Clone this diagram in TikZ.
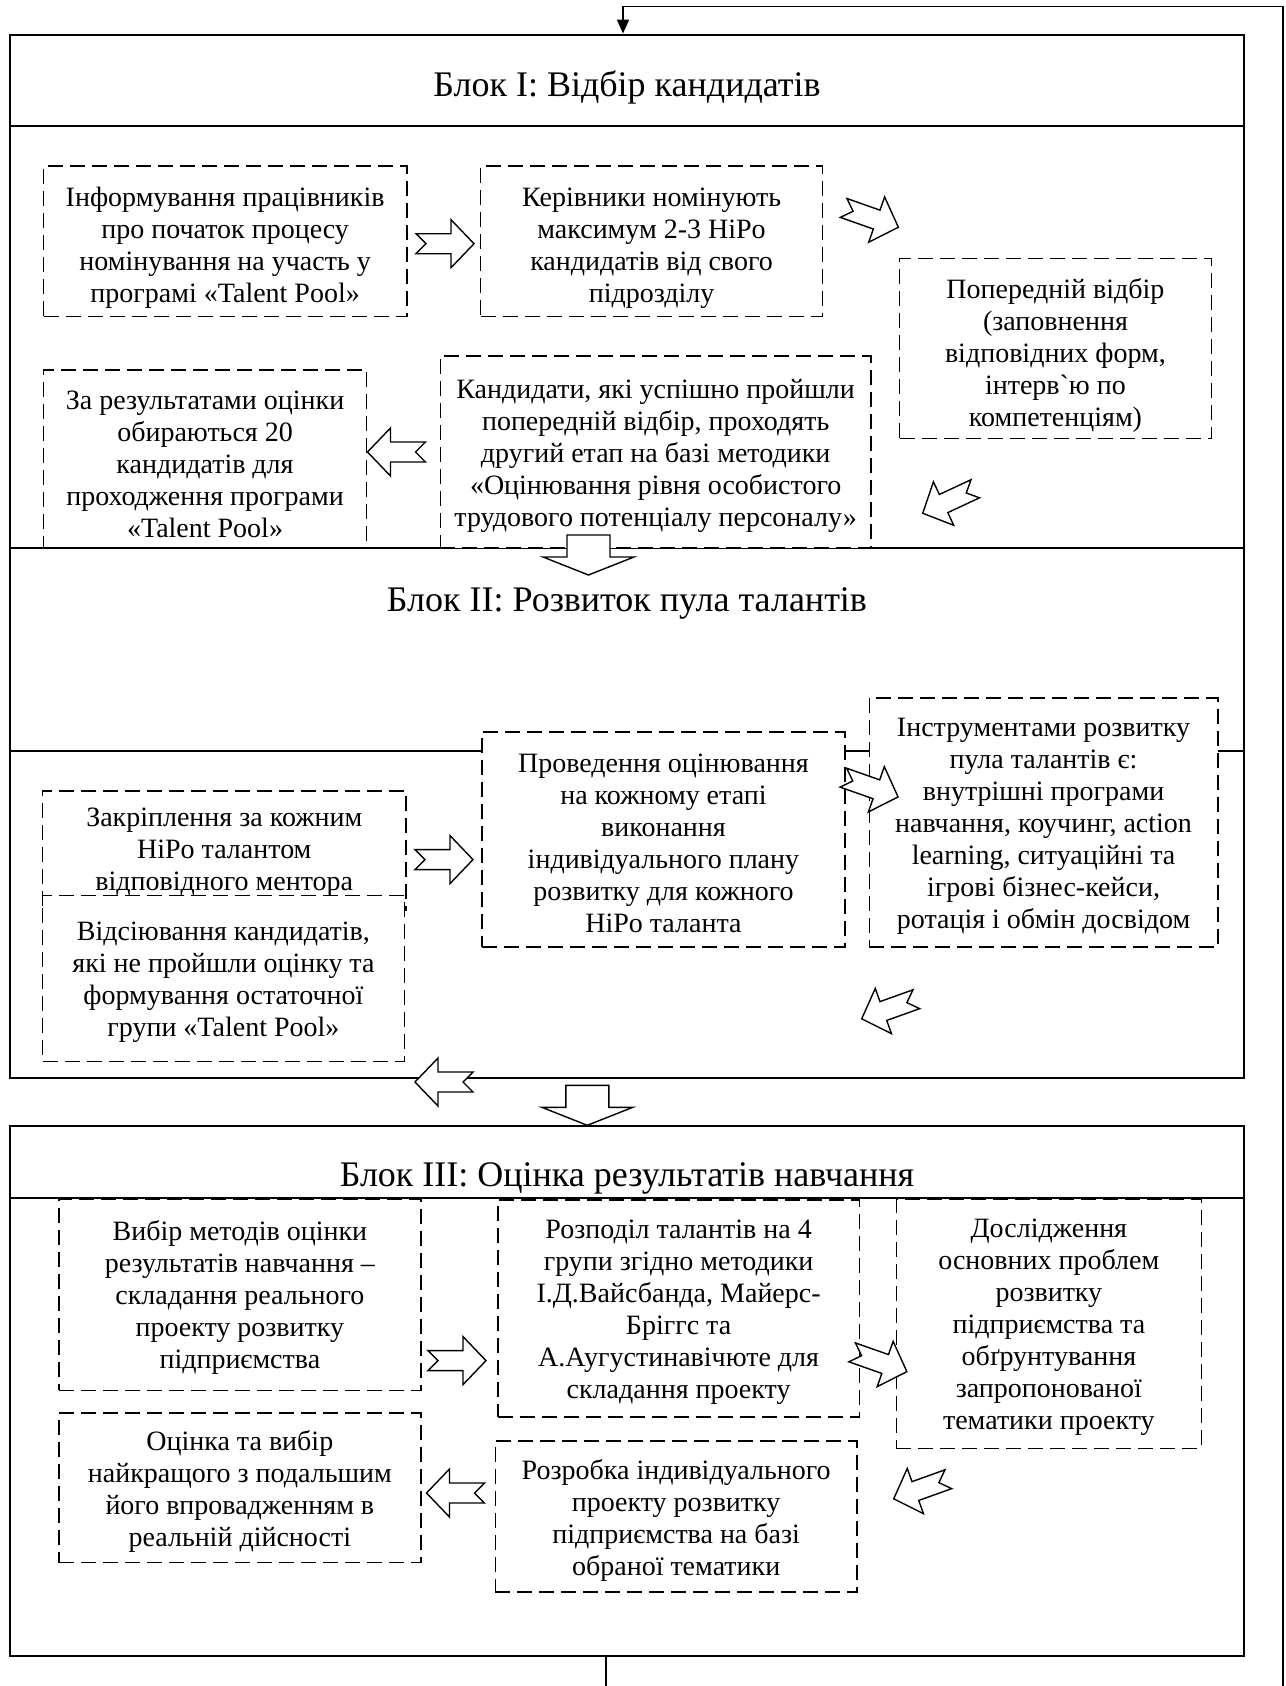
\documentclass[tikz,border=0pt]{standalone}
\usepackage{fontspec}
\setmainfont{Liberation Serif}
\usetikzlibrary{arrows.meta}
\newcommand\dbx[7][0]{%
  \node[dbox, corners={#3}{#4}{#5}{#6}] (#2) {};
  \node[btxt] (#2t) at ([yshift={-(2+#1)*1pt}]#2.center) {#7};}
\begin{document}
\begin{tikzpicture}[x=0.5pt,y=-0.5pt,
  corners/.style n args={4}{minimum width={(#3-#1)*0.5pt}, minimum height={(#4-#2)*0.5pt}, at={({(#1+#3)/2},{(#2+#4)/2})}},
  frame/.style={draw, line width=1pt, inner sep=0pt},
  dbox/.style={draw, fill=white, line width=0.8pt, dash pattern=on 7.5pt off 3.5pt, inner sep=0pt},
  btxt/.style={align=center, inner sep=0pt, font=\fontsize{14}{16}\selectfont},
  ttl/.style={anchor=base, font=\fontsize{18}{21}\selectfont, inner sep=0pt},
  sarr/.style={draw, fill=white, line width=0.7pt, line join=miter},
  fb/.style={line width=0.75pt},
  notch/.pic={\path[sarr] (29,0) -- (6,24) -- (6,10) -- (-29,10) -- (-19,0) -- (-29,-10) -- (6,-10) -- (6,-24) -- cycle;},
  downarr/.pic={\path[sarr] (0,0) -- (-45.5,-18) -- (-21.5,-18) -- (-21.5,-40) -- (21.5,-40) -- (21.5,-18) -- (45.5,-18) -- cycle;}
]
\fill[white] (0,0) rectangle (1285,1686);
\useasboundingbox (0,0) rectangle (1285,1686);

% box under the block line
\dbx[0.7]{b5}{43.5}{370}{366.6}{548}{За результатами оцінки\\обираються 20\\кандидатів для\\проходження програми\\«Talent Pool»}

% block frames
\node[frame, corners={10}{34.6}{1244}{548}] (blk1) {};
\node[frame, corners={10}{548}{1244}{1078}] (blk2) {};
\node[frame, corners={10}{1126}{1244}{1655.5}] (blk3) {};
\draw[line width=1pt] (10,126) -- (1244,126);
\draw[line width=1pt] (10,751) -- (1244,751);

\node[ttl] (t1) at (627,96.5) {Блок I: Відбір кандидатів};
\node[ttl] (t2) at (627,611.5) {Блок II: Розвиток пула талантів};
\node[ttl] (t3) at (627,1186.5) {Блок III: Оцінка результатів навчання};

% Block I boxes
\dbx[1.5]{b1}{43.5}{166}{406.8}{316.4}{Інформування працівників\\про початок процесу\\номінування на участь у\\програмі «Talent Pool»}
\dbx[1.5]{b2}{480.6}{166}{822.5}{316.4}{Керівники номінують\\максимум 2-3 HiPo\\кандидатів від свого\\підрозділу}
\dbx[1.5]{b3}{899.6}{258.6}{1211.3}{438.6}{Попередній відбір\\(заповнення\\відповідних форм,\\інтерв{\addfontfeatures{Ligatures=TeXOff}`}ю по\\компетенціям)}
\dbx{b4}{440.4}{356}{870.9}{548}{Кандидати, які успішно пройшли\\попередній відбір, проходять\\другий етап на базі методики\\«Оцінювання рівня особистого\\трудового потенціалу персоналу»}

% Block II boxes
\dbx[-1]{c1}{42.6}{791}{406}{910}{Закріплення за кожним\\HiPo талантом\\відповідного ментора}
\dbx{c2}{42.6}{895.4}{404.3}{1061.4}{Відсіювання кандидатів,\\які не пройшли оцінку та\\формування остаточної\\групи «Talent Pool»}
\dbx{c3}{482.2}{731.8}{844.7}{947}{Проведення оцінювання\\на кожному етапі\\виконання\\індивідуального плану\\розвитку для кожного\\HiPo таланта}
\dbx{c4}{869.3}{698.2}{1217.8}{947}{Інструментами розвитку\\пула талантів є:\\внутрішні програми\\навчання, коучинг, action\\learning, ситуаційні та\\ігрові бізнес-кейси,\\ротація і обмін досвідом}

% Block III boxes
\dbx[-0.5]{f1}{59}{1199}{420.7}{1390.4}{Вибір методів оцінки\\результатів навчання –\\складання реального\\проекту розвитку\\підприємства}
\dbx{f2}{497.8}{1200}{859.4}{1417}{Розподіл талантів на 4\\групи згідно методики\\І.Д.Вайсбанда, Майерс-\\Бріггс та\\А.Аугустинавічюте для\\складання проекту}
\dbx{f3}{896.3}{1199}{1201.4}{1448.3}{Дослідження\\основних проблем\\розвитку\\підприємства та\\обґрунтування\\запропонованої\\тематики проекту}
\dbx{f4}{59}{1412.8}{420.7}{1562.6}{Оцінка та вибір\\найкращого з подальшим\\його впровадженням в\\реальній дійсності}
\dbx{f5}{495.3}{1441.2}{857}{1591.8}{Розробка індивідуального\\проекту розвитку\\підприємства на базі\\обраної тематики}
\draw[line width=1pt] (10,1197.5) -- (1244,1197.5);

% notched arrows
\pic (a1) at (445,243.7) {notch};
\pic[rotate=-19.4] (a2) at (871,217.6) {notch};
\pic[rotate=205] (a3) at (949,501) {notch};
\pic[rotate=180] (a4) at (396.5,452) {notch};
\pic (d1) at (444,859.6) {notch};
\pic[rotate=-19.4] (d2) at (870.7,787.3) {notch};
\pic[rotate=199.7] (d3) at (889,1009) {notch};
\pic[rotate=180] (d4) at (444,1082) {notch};
\pic (g1) at (457,1360.6) {notch};
\pic[rotate=-19.4] (g2) at (879.5,1362) {notch};
\pic[rotate=199.7] (g3) at (921,1489) {notch};
\pic[rotate=180] (g4) at (455.5,1493) {notch};

% block arrows between blocks
\pic (e1) at (588.5,575) {downarr};
\pic (e2) at (587.3,1125.3) {downarr};

% feedback loop
\coordinate (fbEnd) at (1283,1686);
\coordinate (fbTop) at (623,6.7);
\coordinate (fbBot) at (606,1686);
\draw[fb, -{Triangle[length=7pt,width=6pt]}] (fbEnd) |- (fbTop) -- (blk1.north -| fbTop);
\draw[fb] (blk3.south -| fbBot) -- (fbBot);
\end{tikzpicture}
\end{document}
